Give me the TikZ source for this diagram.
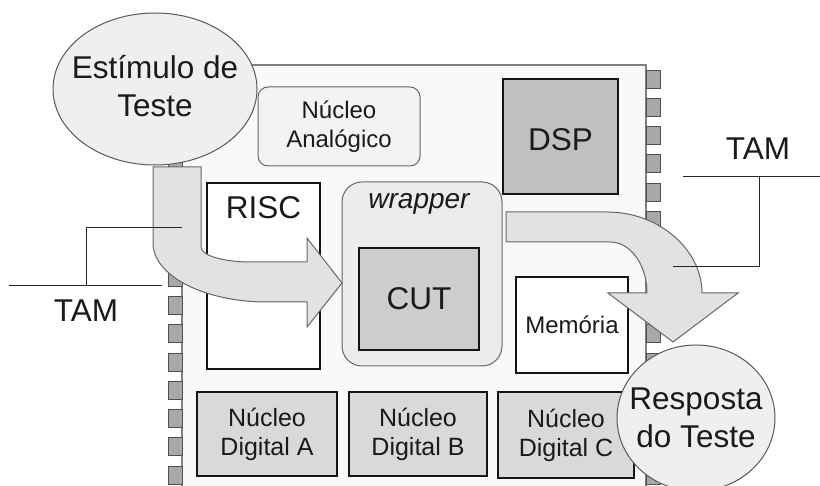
\documentclass[tikz,border=0pt]{standalone}
\usepackage{fontspec}
\setmainfont{Liberation Sans}
\usetikzlibrary{shapes.geometric}
\definecolor{chipfill}{HTML}{F9F9F9}
\definecolor{chipline}{HTML}{808080}
\definecolor{pinfill}{HTML}{A8A8A8}
\definecolor{pinline}{HTML}{505050}
\definecolor{dspfill}{HTML}{C0C0C0}
\definecolor{cutfill}{HTML}{CDCDCD}
\definecolor{digfill}{HTML}{D9D9D9}
\definecolor{wrapfill}{HTML}{ECECEC}
\definecolor{anafill}{HTML}{F3F3F3}
\definecolor{ellfill}{HTML}{EFEFEF}
\definecolor{arrfill}{HTML}{E2E2E2}
\definecolor{txtcol}{HTML}{1A1A1A}
\tikzset{
  fbig/.style={font=\fontsize{31.5}{38}\selectfont},
  fmid/.style={font=\fontsize{25}{29}\selectfont},
  fsm/.style={font=\fontsize{24}{29}\selectfont},
  lab/.style={align=center, text=txtcol, inner sep=0pt},
  corebox/.style={draw=black!92, line width=2.4pt, inner sep=0pt, rectangle},
  softbox/.style={draw=black!60, line width=1pt, inner sep=0pt, rectangle, rounded corners=#1},
  pinbox/.style={draw=pinline, fill=pinfill, line width=0.9pt},
  ell/.style={ellipse, draw=black!65, fill=ellfill, line width=1pt, inner sep=0pt},
  bigarrow/.style={draw=black!60, fill=arrfill, line width=1pt, line join=miter},
  tamline/.style={draw=black!85, line width=1pt},
}
\begin{document}
\begin{tikzpicture}[x=1pt,y=-1pt]
\useasboundingbox (0,0) rectangle (820,486);
\clip (0,0) rectangle (820,486);
\fill[white] (0,0) rectangle (820,486);
% chip
\draw[draw=chipline, fill=chipfill, line width=1.2pt] (182,65) rectangle (646,500);
% pins
\foreach \k in {0,...,14}{
  \draw[pinbox] (168,{70+28.3*\k}) rectangle ++(14,18);
  \draw[pinbox] (646,{70+28.3*\k}) rectangle ++(14,18);
}
% cores
\node[softbox=10pt, fill=anafill, minimum width=162pt, minimum height=79pt] (ana) at (339,126.5) {};
\node[lab, fsm] at (ana) {Núcleo\\Analógico};
\node[corebox, fill=dspfill, minimum width=115pt, minimum height=115pt] (dsp) at (560.5,136.5) {};
\node[lab, fbig] at ([yshift=-3pt]dsp.center) {DSP};
\node[corebox, fill=white, minimum width=113pt, minimum height=186pt] (risc) at (263.5,276) {};
\node[lab, fbig, anchor=north] at ([yshift=-15pt]risc.north) {RISC};
\node[softbox=20pt, fill=wrapfill, minimum width=160pt, minimum height=184pt] (wrap) at (422,274) {};
\node[lab, font=\fontsize{28}{32}\selectfont\itshape, anchor=north] at ([xshift=-3pt,yshift=-12pt]wrap.north) {wrapper};
\node[corebox, fill=cutfill, minimum width=120pt, minimum height=102pt] (cut) at (419,299) {};
\node[lab, fbig] at (cut) {CUT};
\node[corebox, fill=white, minimum width=112pt, minimum height=96pt] (mem) at (572,325) {};
\node[lab, fsm] at (mem) {Memória};
\node[corebox, fill=digfill, minimum width=140pt, minimum height=84pt] (dA) at (267,434) {};
\node[lab, fmid] at (dA) {Núcleo\\Digital A};
\node[corebox, fill=digfill, minimum width=138pt, minimum height=84pt] (dB) at (418,434) {};
\node[lab, fmid] at (dB) {Núcleo\\Digital B};
\node[corebox, fill=digfill, minimum width=136pt, minimum height=86pt] (dC) at (566,435) {};
\node[lab, fmid] at (dC) {Núcleo\\Digital C};
% big arrow 1 (stimulus -> CUT)
\draw[bigarrow] (153,167) -- (201,167) -- (201,247)
  .. controls (201,255.3) and (223,262) .. (250,262)
  -- (307,262) -- (307,238) -- (342,283) -- (307,327) -- (307,302) -- (267,302)
  .. controls (204,302) and (153,275.6) .. (153,243) -- cycle;
% big arrow 2 (wrapper -> response)
\draw[bigarrow] (506,212) -- (607,212)
  .. controls (659.4,212) and (702,250) .. (702,293)
  -- (738,293) -- (673,342) -- (608,293) -- (647,293)
  .. controls (647,264.8) and (630.4,242) .. (610,242)
  -- (506,242) -- cycle;
% TAM left
\coordinate (tl1) at (9,286);
\coordinate (tl2) at (162,286);
\coordinate (tl3) at (86,286);
\coordinate (tl4) at (86,228);
\coordinate (tl5) at (182,228);
\draw[tamline] (tl1) -- (tl2);
\draw[tamline] (tl3) -- (tl4) -- (tl5);
\node[lab, fbig] (taml) at (86,311) {TAM};
% TAM right
\coordinate (tr1) at (683,177);
\coordinate (tr2) at (820,177);
\coordinate (tr3) at (759,177);
\coordinate (tr4) at (759,267);
\coordinate (tr5) at (673,267);
\draw[tamline] (tr1) -- (tr2);
\draw[tamline] (tr3) -- (tr4) -- (tr5);
\node[lab, fbig] (tamr) at (758,149) {TAM};
% ellipses
\node[ell, minimum width=204pt, minimum height=152pt] (stim) at (155,89) {};
\node[lab, fbig] at ([yshift=3pt]stim.center) {Estímulo de\\Teste};
\node[ell, minimum width=158pt, minimum height=146pt] (resp) at (696,418) {};
\node[lab, fbig] at (resp) {Resposta\\do Teste};
\end{tikzpicture}
\end{document}
